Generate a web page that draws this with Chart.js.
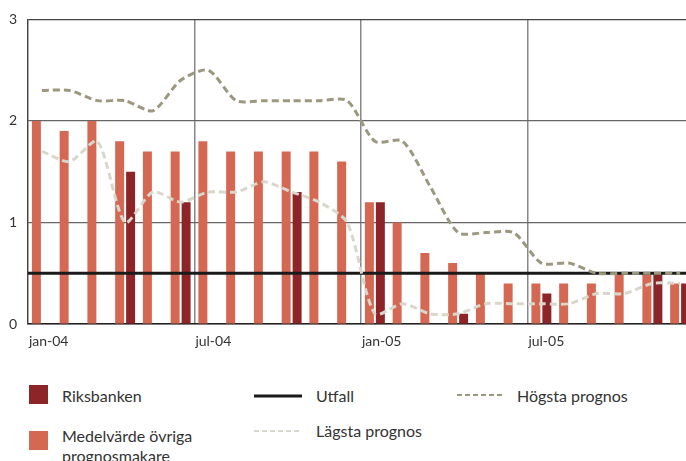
<!DOCTYPE html>
<html>
<head>
<meta charset="utf-8">
<script src="https://cdn.jsdelivr.net/npm/chart.js@4/dist/chart.umd.min.js"></script>
<style>
  html, body { margin: 0; padding: 0; background: #fff; }
  body { width: 686px; height: 461px; overflow: hidden; position: relative; font-family: Lato, sans-serif; color: #333; }
  #wrap { position: absolute; left: 0; top: 0; width: 694px; height: 360px; }
  .sw { position: absolute; width: 19px; height: 19px; }
  .lbl { position: absolute; font-size: 16px; line-height: 20px; white-space: nowrap; }
  svg { position: absolute; }
</style>
</head>
<body>
<div id="wrap"><canvas id="c" width="694" height="360"></canvas></div>

<div class="sw" style="left:29px;top:385px;background:#8c2428"></div>
<div class="lbl" style="left:62px;top:386px">Riksbanken</div>
<div class="sw" style="left:29px;top:431px;background:#d46852"></div>
<div class="lbl" style="left:62px;top:426px">Medelvärde övriga<br>prognosmakare</div>

<svg style="left:254px;top:390px" width="48" height="12"><line x1="0" y1="6" x2="48" y2="6" stroke="#1a1a1a" stroke-width="3"/></svg>
<div class="lbl" style="left:316px;top:386px">Utfall</div>
<svg style="left:254px;top:425px" width="48" height="12"><line x1="0" y1="6" x2="48" y2="6" stroke="#d9d6cc" stroke-width="2" stroke-dasharray="5,3"/></svg>
<div class="lbl" style="left:316px;top:421px">Lägsta prognos</div>

<svg style="left:457px;top:389px" width="45" height="12"><line x1="0" y1="6" x2="45" y2="6" stroke="#9c9880" stroke-width="2" stroke-dasharray="5,3"/></svg>
<div class="lbl" style="left:517px;top:386px">Högsta prognos</div>

<script>
// månader jan-04 .. dec-05
const months = [
  'jan-04','feb-04','mar-04','apr-04','maj-04','jun-04','jul-04','aug-04','sep-04','okt-04','nov-04','dec-04',
  'jan-05','feb-05','mar-05','apr-05','maj-05','jun-05','jul-05','aug-05','sep-05','okt-05','nov-05','dec-05'
];
const shownLabels = ['jan-04', 'jul-04', 'jan-05', 'jul-05'];

const medelvarde = [2.0, 1.9, 2.0, 1.8, 1.7, 1.7, 1.8, 1.7, 1.7, 1.7, 1.7, 1.6,
                    1.2, 1.0, 0.7, 0.6, 0.5, 0.4, 0.4, 0.4, 0.4, 0.5, 0.5, 0.4];
const riksbanken = [null, null, null, 1.5, null, 1.2, null, null, null, 1.3, null, null,
                    1.2, null, null, 0.1, null, null, 0.3, null, null, null, 0.5, 0.4];
const hogsta = [2.3, 2.3, 2.2, 2.2, 2.1, 2.4, 2.5, 2.2, 2.2, 2.2, 2.2, 2.2,
                1.8, 1.8, 1.35, 0.9, 0.9, 0.9, 0.6, 0.6, 0.5, 0.5, 0.5, 0.5];
const lagsta = [1.7, 1.6, 1.8, 1.0, 1.3, 1.2, 1.3, 1.3, 1.4, 1.3, 1.2, 1.0,
                0.1, 0.2, 0.1, 0.1, 0.2, 0.2, 0.2, 0.2, 0.3, 0.3, 0.4, 0.4];
const utfall = 0.5;
const yTicks = [0, 1, 2, 3];

// Utfall: vågrät linje över hela diagramytan, ritas ovanpå staplarna
const utfallLine = {
  id: 'utfall',
  afterDatasetDraw(chart, args) {
    if (args.index !== 2) return; // sista stapelserien som ritas
    const { ctx, chartArea: a, scales: { y } } = chart;
    const py = y.getPixelForValue(utfall);
    ctx.save();
    ctx.strokeStyle = '#1a1a1a';
    ctx.lineWidth = 3;
    ctx.beginPath();
    ctx.moveTo(a.left, py);
    ctx.lineTo(a.right, py);
    ctx.stroke();
    ctx.restore();
  }
};

const ctx = document.getElementById('c').getContext('2d');
new Chart(ctx, {
  type: 'bar',
  data: {
    labels: months,
    datasets: [
      {
        type: 'line', label: 'Högsta prognos', data: hogsta, order: 0,
        borderColor: '#9c9880', borderWidth: 3, borderDash: [7, 4],
        pointRadius: 0, tension: 0.25
      },
      {
        type: 'line', label: 'Lägsta prognos', data: lagsta, order: 0,
        borderColor: '#d9d6cc', borderWidth: 3, borderDash: [7, 4],
        pointRadius: 0, tension: 0.25
      },
      {
        label: 'Medelvärde övriga prognosmakare', data: medelvarde, order: 1,
        backgroundColor: '#d46852', categoryPercentage: 0.79, barPercentage: 0.82
      },
      {
        label: 'Riksbanken', data: riksbanken, order: 1,
        backgroundColor: '#8c2428', categoryPercentage: 0.79, barPercentage: 0.82
      }
    ]
  },
  plugins: [utfallLine],
  options: {
    responsive: false,
    animation: false,
    layout: { padding: { top: 15, left: 0, right: 0, bottom: 0 } },
    plugins: { legend: { display: false }, tooltip: { enabled: false } },
    scales: {
      x: {
        grid: {
          offset: true,
          drawTicks: false,
          color: (c) => (c.index % 6 === 0 ? '#888' : 'rgba(0,0,0,0)'),
          lineWidth: 1.5
        },
        border: { color: '#222', width: 1.5 },
        ticks: {
          autoSkip: false, maxRotation: 0, align: 'start', labelOffset: -13, padding: 9,
          color: '#333', font: { family: 'Lato', size: 14 },
          callback: function (v) {
            const l = this.getLabelForValue(v);
            return shownLabels.includes(l) ? l : '';
          }
        },
        afterFit: (s) => { s.height = 36; }
      },
      y: {
        min: 0, max: 3,
        afterBuildTicks: (s) => { s.ticks = yTicks.map(v => ({ value: v })); },
        grid: {
          drawTicks: false,
          color: (c) => (c.tick && c.tick.value === 3 ? '#444' : '#666'),
          lineWidth: 1.2
        },
        border: { color: '#444', width: 1.2 },
        ticks: { padding: 11, color: '#333', font: { family: 'Lato', size: 14 } },
        afterFit: (s) => { s.width = 28; }
      }
    }
  }
});
</script>
</body>
</html>
